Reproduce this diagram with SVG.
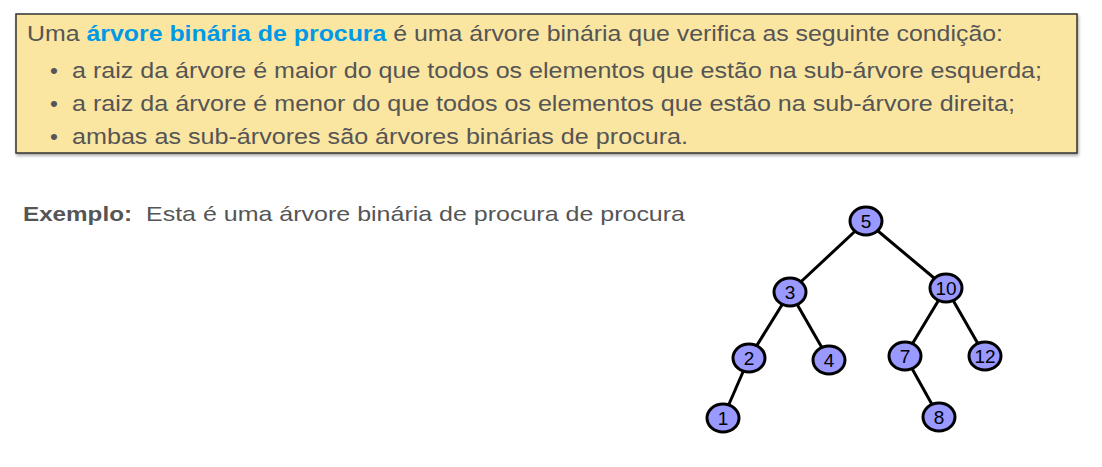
<svg xmlns="http://www.w3.org/2000/svg" width="1102" height="467" viewBox="0 0 1102 467">
<defs>
<filter id="sh" x="-5%" y="-5%" width="110%" height="120%">
<feDropShadow dx="1" dy="2" stdDeviation="1.5" flood-color="#000" flood-opacity="0.35"/>
</filter>
</defs>
<style>
.t{font-family:"Liberation Sans",Arial,sans-serif;font-size:22.5px;fill:#555}
.hl{fill:#0099e6;font-weight:bold}
.ex{font-family:"Liberation Sans",Arial,sans-serif;font-size:21px;fill:#555}
.n ellipse{fill:#9999ff;stroke:#000;stroke-width:3}
.n text{font-family:"Liberation Sans",Arial,sans-serif;font-size:19px;fill:#000;text-anchor:middle}
.e line{stroke:#000;stroke-width:3}
</style>
<g id="definition">
<rect x="16" y="14" width="1061" height="139" fill="#fbe6a1" stroke="#333" stroke-width="1.5" filter="url(#sh)"/>
<text class="t" x="27" y="41" textLength="976" lengthAdjust="spacingAndGlyphs">Uma <tspan class="hl">árvore binária de procura</tspan> é uma árvore binária que verifica as seguinte condição:</text>
<text class="t" x="50" y="78">•</text>
<text class="t" x="72" y="78" textLength="970" lengthAdjust="spacingAndGlyphs">a raiz da árvore é maior do que todos os elementos que estão na sub-árvore esquerda;</text>
<text class="t" x="50" y="111">•</text>
<text class="t" x="72" y="111" textLength="943" lengthAdjust="spacingAndGlyphs">a raiz da árvore é menor do que todos os elementos que estão na sub-árvore direita;</text>
<text class="t" x="50" y="144">•</text>
<text class="t" x="72" y="144" textLength="616" lengthAdjust="spacingAndGlyphs">ambas as sub-árvores são árvores binárias de procura.</text>
</g>
<g id="example">
<text class="ex" x="23" y="221" font-weight="bold" textLength="109" lengthAdjust="spacingAndGlyphs">Exemplo:</text>
<text class="ex" x="146" y="221" textLength="539" lengthAdjust="spacingAndGlyphs">Esta é uma árvore binária de procura de procura</text>
</g>
<g id="edges" class="e">
<line x1="866" y1="221" x2="790" y2="292"/>
<line x1="866" y1="221" x2="946" y2="288"/>
<line x1="790" y1="292" x2="749" y2="358"/>
<line x1="790" y1="292" x2="829" y2="360"/>
<line x1="946" y1="288" x2="905" y2="356"/>
<line x1="946" y1="288" x2="985" y2="356"/>
<line x1="749" y1="358" x2="723" y2="418"/>
<line x1="905" y1="356" x2="939" y2="417"/>
</g>
<g id="n5" class="n"><ellipse cx="866" cy="221" rx="16" ry="14"/><text x="866" y="228">5</text></g>
<g id="n3" class="n"><ellipse cx="790" cy="292" rx="16" ry="14"/><text x="790" y="299">3</text></g>
<g id="n10" class="n"><ellipse cx="946" cy="288" rx="16" ry="14"/><text x="946" y="295">10</text></g>
<g id="n2" class="n"><ellipse cx="749" cy="358" rx="16" ry="14"/><text x="749" y="365">2</text></g>
<g id="n4" class="n"><ellipse cx="829" cy="360" rx="16" ry="14"/><text x="829" y="367">4</text></g>
<g id="n7" class="n"><ellipse cx="905" cy="356" rx="16" ry="14"/><text x="905" y="363">7</text></g>
<g id="n12" class="n"><ellipse cx="985" cy="356" rx="16" ry="14"/><text x="985" y="363">12</text></g>
<g id="n1" class="n"><ellipse cx="723" cy="418" rx="16" ry="14"/><text x="723" y="425">1</text></g>
<g id="n8" class="n"><ellipse cx="939" cy="417" rx="16" ry="14"/><text x="939" y="424">8</text></g>
</svg>
